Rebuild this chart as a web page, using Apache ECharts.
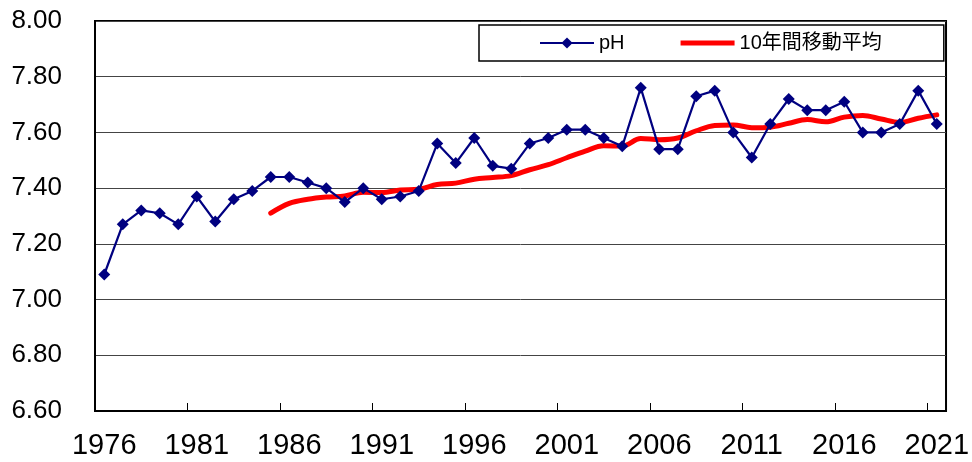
<!DOCTYPE html>
<html>
<head>
<meta charset="utf-8">
<script src="https://cdn.jsdelivr.net/npm/echarts@6/dist/echarts.min.js"></script>
<style>
  html, body { margin: 0; padding: 0; background: #ffffff; }
  #chart { width: 972px; height: 462px; }
</style>
</head>
<body>
<div id="chart"></div>
<script>
// Survey years
const years = [
  '1976','1977','1978','1979','1980','1981','1982','1983','1984','1985',
  '1986','1987','1988','1989','1990','1991','1992','1993','1994','1995',
  '1996','1997','1998','1999','2000','2001','2002','2003','2004','2005',
  '2006','2007','2008','2009','2010','2011','2012','2013','2014','2015',
  '2016','2017','2018','2019','2020','2021'
];

// Annual pH
const phValues = [
  7.09, 7.27, 7.32, 7.31, 7.27, 7.37, 7.28, 7.36, 7.39, 7.44,
  7.44, 7.42, 7.40, 7.35, 7.40, 7.36, 7.37, 7.39, 7.56, 7.49,
  7.58, 7.48, 7.47, 7.56, 7.58, 7.61, 7.61, 7.58, 7.55, 7.76,
  7.54, 7.54, 7.73, 7.75, 7.60, 7.51, 7.63, 7.72, 7.68, 7.68,
  7.71, 7.60, 7.60, 7.63, 7.75, 7.63
];

// 10-year moving average (first value in 1985)
const movingAverage = [
  null, null, null, null, null, null, null, null, null, 7.310,
  7.345, 7.360, 7.368, 7.372, 7.385, 7.384, 7.393, 7.396, 7.413, 7.418,
  7.432, 7.438, 7.445, 7.466, 7.484, 7.509, 7.533, 7.552, 7.551, 7.578,
  7.574, 7.580, 7.606, 7.625, 7.627, 7.617, 7.619, 7.633, 7.646, 7.638,
  7.655, 7.661, 7.648, 7.636, 7.651, 7.663
];

// Value axis range
const yMin = 6.6;
const yMax = 8.0;
const yStep = 0.2;

const seriesNames = ['pH', '10年間移動平均'];

const chart = echarts.init(document.getElementById('chart'), null, { renderer: 'canvas' });

chart.setOption({
  animation: false,
  backgroundColor: '#ffffff',
  textStyle: { fontFamily: 'Liberation Sans, Arial, sans-serif' },
  grid: {
    left: 95, right: 23, top: 21, bottom: 51,
    show: true, borderColor: '#000000', borderWidth: 2, backgroundColor: 'transparent'
  },
  legend: {
    left: 479, top: 25,
    padding: [8, 62, 8, 60],
    backgroundColor: '#ffffff',
    borderColor: '#000000',
    borderWidth: 1.5,
    borderRadius: 0,
    itemWidth: 54,
    itemHeight: 14,
    itemGap: 56,
    textStyle: {
      fontSize: 20,
      color: '#000000',
      fontFamily: 'Liberation Sans, "Noto Sans CJK JP", sans-serif'
    },
    data: [
      { name: seriesNames[0] },
      { name: seriesNames[1], icon: 'path://M0,0 L54,0 L54,5 L0,5 Z' }
    ]
  },
  xAxis: {
    type: 'category',
    data: years,
    boundaryGap: true,
    axisLine: { show: true, lineStyle: { color: '#000000', width: 2 } },
    axisTick: { show: true, inside: true, interval: 4, length: 8, lineStyle: { color: '#000000', width: 1 } },
    axisLabel: {
      interval: 4,
      margin: 20,
      fontSize: 29,
      color: '#000000',
      fontFamily: '"Liberation Sans Narrow", "Liberation Sans", Arial, sans-serif'
    },
    splitLine: { show: false }
  },
  yAxis: {
    type: 'value',
    min: yMin,
    max: yMax,
    interval: yStep,
    axisLine: { show: true, lineStyle: { color: '#000000', width: 2 } },
    axisTick: { show: false },
    axisLabel: {
      margin: 33,
      fontSize: 26,
      color: '#000000',
      formatter: v => v.toFixed(2)
    },
    splitLine: { show: true, lineStyle: { color: '#444444', width: 1 } }
  },
  series: [
    {
      name: seriesNames[0],
      type: 'line',
      data: phValues,
      z: 3,
      symbol: 'diamond',
      symbolSize: 12,
      showAllSymbol: true,
      lineStyle: { color: '#000080', width: 2.2 },
      itemStyle: { color: '#000080' }
    },
    {
      name: seriesNames[1],
      type: 'line',
      data: movingAverage,
      z: 2,
      symbol: 'none',
      smooth: 0.35,
      lineStyle: { color: '#ff0000', width: 5, cap: 'round' },
      itemStyle: { color: '#ff0000' }
    }
  ]
});
</script>
</body>
</html>
